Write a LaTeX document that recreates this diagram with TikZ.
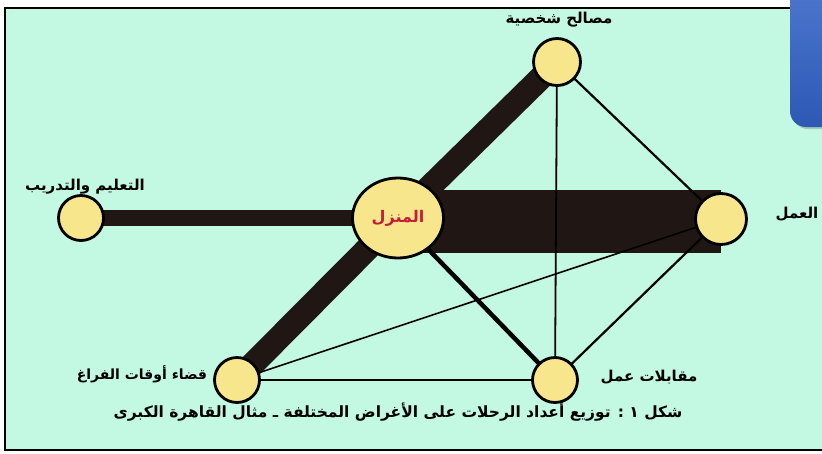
\documentclass[tikz,border=0pt]{standalone}
\usepackage{fontspec}
\usepackage{tikz}
\usetikzlibrary{calc,positioning,shapes.geometric,shadows}
\newfontfamily\arabicfont[Script=Arabic]{DejaVu Sans}
\TeXXeTstate=1
\definecolor{mintbg}{HTML}{C3F8E2}
\definecolor{yellowx}{HTML}{F8E68C}
\definecolor{barx}{HTML}{201714}
\definecolor{redx}{HTML}{C61C38}
\definecolor{bluetop}{HTML}{4E78CF}
\definecolor{bluebot}{HTML}{2D58B4}
\pgfdeclarelayer{bg}
\pgfdeclarelayer{links}
\pgfsetlayers{bg,links,main}
\tikzset{
  stop/.style={circle,draw=black,line width=2.8pt,fill=yellowx,minimum size=45pt,inner sep=0pt},
  lbl/.style={font=\arabicfont\bfseries\fontsize{15}{17}\selectfont,inner sep=1pt},
  bar/.style={barx,line width=#1},
  link/.style={black,line width=#1}
}

\begin{document}
\begin{tikzpicture}[x=1pt,y=-1pt]
\useasboundingbox (0,0) rectangle (822,453);
% stations
\node[stop,minimum size=47pt] (pers) at (557,62) {};
\node[stop] (edu) at (81,218) {};
\node[stop,ellipse,minimum width=91pt,minimum height=80pt] (home) at (398,218)
  {\textcolor{redx}{\arabicfont\bfseries\fontsize{16}{18}\selectfont\beginR المنزل\endR}};
\node[stop,minimum size=51pt] (work) at (721,219) {};
\node[stop] (leis) at (237,380) {};
\node[stop] (intv) at (555,380) {};
% labels
\node[lbl] (perslbl) at (559,20) {\beginR مصالح شخصية\endR};
\node[lbl] (edulbl) at (85,187) {\beginR التعليم والتدريب\endR};
\node[lbl] (worklbl) at (797,214) {\beginR العمل\endR};
\node[lbl,font=\arabicfont\bfseries\fontsize{14}{16}\selectfont] (leislbl) at (142,374) {\beginR قضاء أوقات الفراغ\endR};
\node[lbl] (intvlbl) at (649,377) {\beginR مقابلات عمل\endR};
\node[lbl,font=\arabicfont\bfseries\fontsize{15.5}{17}\selectfont] (cap) at (398,412) {\beginR شكل ١ : توزيع أعداد الرحلات على الأغراض المختلفة ـ مثال القاهرة الكبرى\endR};
% background and frame
\begin{pgfonlayer}{bg}
\fill[white] (0,0) rectangle (822,453);
\fill[mintbg] (5,8) rectangle (822,450);
\draw[line width=1.4pt] (824,8) -- (5,8) -- (5,450) -- (824,450);
\end{pgfonlayer}
% trip volumes
\begin{pgfonlayer}{links}
\draw[bar=63pt] ($(home.center)+(0,3)$) -- ($(work.center)+(0,2)$);
\draw[bar=16pt] (home.center) -- (edu.center);
\draw[bar=24pt] (home.center) -- (pers.center);
\draw[bar=24pt] (home.center) -- (leis.center);
\draw[link=4.5pt] (home.center) -- (intv.center);
\draw[link=1.8pt] (pers.center) -- (intv.center);
\draw[link=2.2pt] (pers.center) -- (work.center);
\draw[link=2.2pt] (work.center) -- (intv.center);
\draw[link=2.2pt] (leis.center) -- (intv.center);
\draw[link=1.6pt] (leis.center) -- (work.center);
\end{pgfonlayer}
% slide tab
\shade[top color=bluetop,bottom color=bluebot,rounded corners=16pt,drop shadow={opacity=0.4}]
  (790,-20) rectangle (840,127);
\end{tikzpicture}
\end{document}
